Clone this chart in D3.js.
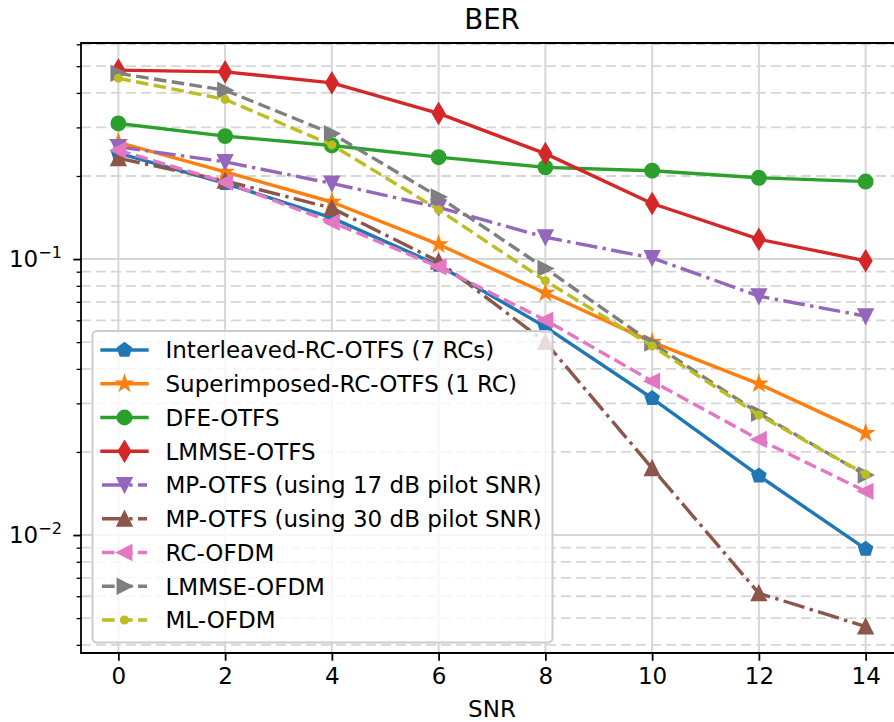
<!DOCTYPE html>
<meta charset="utf-8">
<html>
<head>
    <meta charset="utf-8">
    <title>BER</title>
    <style>
        body { margin: 0; background: #fff; }
        text { font-family: "DejaVu Sans", sans-serif; fill: #000; }
    </style>
</head>
<body>
    <script src="https://d3js.org/d3.v7.min.js"></script>
    <script>
        // data
        const snr = [0, 2, 4, 6, 8, 10, 12, 14];
        const interleaved = [0.242, 0.188, 0.141, 0.095, 0.0568, 0.0313, 0.0164, 0.0089];
        const superimposed = [0.265, 0.207, 0.161, 0.113, 0.0753, 0.050, 0.0353, 0.0234];
        const dfeOtfs = [0.310, 0.279, 0.258, 0.234, 0.215, 0.209, 0.197, 0.191];
        const lmmseOtfs = [0.484, 0.477, 0.435, 0.337, 0.241, 0.159, 0.118, 0.0986];
        const mp17 = [0.255, 0.225, 0.188, 0.154, 0.120, 0.101, 0.0734, 0.0621];
        const mp30 = [0.232, 0.192, 0.153, 0.098, 0.050, 0.01746, 0.00615, 0.00466];
        const rcOfdm = [0.248, 0.190, 0.136, 0.0938, 0.0601, 0.0361, 0.0222, 0.0144];
        const lmmseOfdm = [0.471, 0.409, 0.285, 0.168, 0.0925, 0.0496, 0.0276, 0.0165];
        const mlOfdm = [0.452, 0.379, 0.259, 0.151, 0.0834, 0.0484, 0.0272, 0.0166];

        const xTicks = [0, 2, 4, 6, 8, 10, 12, 14];
        const yMajor = [0.1, 0.01];
        const yMajorExp = ["−1", "−2"];
        const yMinor = [0.004, 0.005, 0.006, 0.007, 0.008, 0.009,
                        0.02, 0.03, 0.04, 0.05, 0.06, 0.07, 0.08, 0.09,
                        0.2, 0.3, 0.4, 0.5, 0.6];

        const series = [
            {name: "Interleaved-RC-OTFS (7 RCs)", values: interleaved, color: "#1f77b4", dash: null, marker: "p"},
            {name: "Superimposed-RC-OTFS (1 RC)", values: superimposed, color: "#ff7f0e", dash: null, marker: "*"},
            {name: "DFE-OTFS", values: dfeOtfs, color: "#2ca02c", dash: null, marker: "o"},
            {name: "LMMSE-OTFS", values: lmmseOtfs, color: "#d62728", dash: null, marker: "d"},
            {name: "MP-OTFS (using 17 dB pilot SNR)", values: mp17, color: "#9467bd", dash: "dashdot", marker: "v"},
            {name: "MP-OTFS (using 30 dB pilot SNR)", values: mp30, color: "#8c564b", dash: "dashdot", marker: "^"},
            {name: "RC-OFDM", values: rcOfdm, color: "#e377c2", dash: "dashed", marker: "<"},
            {name: "LMMSE-OFDM", values: lmmseOfdm, color: "#7f7f7f", dash: "dashed", marker: ">"},
            {name: "ML-OFDM", values: mlOfdm, color: "#bcbd22", dash: "dashed", marker: "."},
        ];

        // layout
        const width = 894, height = 722;
        const plot = {left: 81, right: 903, top: 43, bottom: 653};
        const fontSize = 23;
        const lw = 3.4, ms = 13.6, mew = 2.3;
        const dashes = {dashed: [12.6, 5.4], dashdot: [21.8, 5.4, 3.4, 5.4]};

        const svg = d3.select("body").append("svg")
            .attr("width", width)
            .attr("height", height);

        const x = d3.scaleLinear().domain([-0.7, 14.7]).range([plot.left, plot.right]);
        const y = d3.scaleLog().domain([0.003737, 0.6067]).range([plot.bottom, plot.top]);

        svg.append("defs").append("clipPath").attr("id", "clip")
            .append("rect")
            .attr("x", plot.left).attr("y", plot.top)
            .attr("width", plot.right - plot.left).attr("height", plot.bottom - plot.top);

        // grid
        const grid = svg.append("g").attr("class", "grid");
        grid.selectAll(".gx").data(xTicks).join("line")
            .attr("x1", d => x(d)).attr("x2", d => x(d))
            .attr("y1", plot.top).attr("y2", plot.bottom)
            .attr("stroke", "#d6d6d6").attr("stroke-width", 2);
        grid.selectAll(".gy").data(yMajor).join("line")
            .attr("x1", plot.left).attr("x2", plot.right)
            .attr("y1", d => y(d)).attr("y2", d => y(d))
            .attr("stroke", "#d6d6d6").attr("stroke-width", 2);
        grid.selectAll(".gm").data(yMinor).join("line")
            .attr("x1", plot.left).attr("x2", plot.right)
            .attr("y1", d => y(d)).attr("y2", d => y(d))
            .attr("stroke", "#d6d6d6").attr("stroke-width", 1.8)
            .attr("stroke-dasharray", "10,5");

        // markers
        function markerPath(type, size) {
            const r = size / 2;
            const poly = pts => "M" + pts.map(p => p.map(v => v.toFixed(2)).join(",")).join("L") + "Z";
            const circle = rr => `M${-rr},0A${rr},${rr} 0 1,0 ${rr},0A${rr},${rr} 0 1,0 ${-rr},0Z`;
            switch (type) {
                case "o": return circle(r);
                case ".": return circle(r * 0.5);
                case "p": return poly(d3.range(5).map(k => {
                    const a = (90 + 72 * k) * Math.PI / 180;
                    return [r * Math.cos(a), -r * Math.sin(a)];
                }));
                case "*": return poly(d3.range(10).map(k => {
                    const a = (90 + 36 * k) * Math.PI / 180;
                    const rr = k % 2 ? r * 0.381966 : r;
                    return [rr * Math.cos(a), -rr * Math.sin(a)];
                }));
                case "d": {
                    const h = size * 0.7071, w = size * 0.7071 * 0.6;
                    return poly([[0, -h], [w, 0], [0, h], [-w, 0]]);
                }
                case "v": return poly([[0, r], [-r, -r], [r, -r]]);
                case "^": return poly([[0, -r], [-r, r], [r, r]]);
                case "<": return poly([[-r, 0], [r, -r], [r, r]]);
                case ">": return poly([[r, 0], [-r, -r], [-r, r]]);
            }
        }

        // lines
        const line = d3.line().x((d, i) => x(snr[i])).y(d => y(d));
        const groupMarks = svg.append("g").attr("class", "groupMarks");
        for (const s of series) {
            const g = groupMarks.append("g");
            g.append("path")
                .attr("clip-path", "url(#clip)")
                .attr("d", line(s.values))
                .attr("fill", "none")
                .attr("stroke", s.color)
                .attr("stroke-width", lw)
                .attr("stroke-linejoin", "round")
                .attr("stroke-linecap", s.dash ? "butt" : "square")
                .attr("stroke-dasharray", s.dash ? dashes[s.dash].join(",") : null);
            g.selectAll("path.m").data(s.values).join("path")
                .attr("class", "m")
                .attr("transform", (d, i) => `translate(${x(snr[i])},${y(d)})`)
                .attr("d", markerPath(s.marker, ms))
                .attr("fill", s.color)
                .attr("stroke", s.color)
                .attr("stroke-width", mew)
                .attr("stroke-linejoin", "miter");
        }

        // axes
        const axisX = svg.append("g")
            .attr("transform", `translate(0,${plot.bottom})`)
            .call(d3.axisBottom(x).tickValues(xTicks).tickSize(7.7).tickPadding(7))
            .call(g => g.select(".domain").remove());
        axisX.selectAll(".tick line").attr("stroke-width", 1.8);
        axisX.selectAll(".tick text").attr("font-size", fontSize).attr("font-family", "DejaVu Sans").attr("dy", "0.71em");

        const axisY = svg.append("g")
            .attr("transform", `translate(${plot.left},0)`)
            .call(d3.axisLeft(y).tickValues(yMajor).tickSize(7.7).tickFormat(""))
            .call(g => g.select(".domain").remove());
        axisY.selectAll(".tick line").attr("stroke-width", 1.8);
        const axisYMinor = svg.append("g")
            .attr("transform", `translate(${plot.left},0)`)
            .call(d3.axisLeft(y).tickValues(yMinor).tickSize(4.4).tickFormat(""))
            .call(g => g.select(".domain").remove());
        axisYMinor.selectAll(".tick line").attr("stroke-width", 1.3);

        const yLabels = svg.append("g").selectAll("text").data(yMajor).join("text")
            .attr("x", 62)
            .attr("y", d => y(d) + 8.2)
            .attr("text-anchor", "end")
            .attr("font-size", fontSize);
        yLabels.append("tspan").text("10");
        yLabels.append("tspan")
            .attr("font-size", fontSize * 0.7)
            .attr("dy", -9.5)
            .text((d, i) => yMajorExp[i]);

        // spines
        svg.append("path")
            .attr("d", `M${plot.left},${plot.top}V${plot.bottom}H${plot.right}V${plot.top}Z`)
            .attr("fill", "none")
            .attr("stroke", "#000")
            .attr("stroke-width", 1.8)
            .attr("stroke-linejoin", "miter");

        // title and label
        svg.append("text")
            .attr("x", (plot.left + plot.right) / 2)
            .attr("y", 28.5)
            .attr("text-anchor", "middle")
            .attr("font-size", fontSize * 1.2)
            .text("BER");
        svg.append("text")
            .attr("x", (plot.left + plot.right) / 2)
            .attr("y", 716.5)
            .attr("text-anchor", "middle")
            .attr("font-size", fontSize)
            .text("SNR");

        // legend
        const legend = svg.append("g").attr("class", "groupLegends");
        const box = {x: 92.5, y: 331, w: 460, h: 311.5};
        legend.append("rect")
            .attr("x", box.x).attr("y", box.y)
            .attr("width", box.w).attr("height", box.h)
            .attr("rx", 4.4).attr("ry", 4.4)
            .attr("fill", "rgba(255,255,255,0.8)")
            .attr("stroke", "#cccccc")
            .attr("stroke-width", 2);
        const rowY = d3.scalePoint().domain(series.map(s => s.name)).range([350, 620]);
        const hx0 = 102, hx1 = 147;
        for (const s of series) {
            const cy = rowY(s.name);
            legend.append("line")
                .attr("x1", hx0).attr("x2", hx1)
                .attr("y1", cy).attr("y2", cy)
                .attr("stroke", s.color)
                .attr("stroke-width", lw)
                .attr("stroke-linecap", s.dash ? "butt" : "square")
                .attr("stroke-dasharray", s.dash ? dashes[s.dash].join(",") : null);
            legend.append("path")
                .attr("transform", `translate(${(hx0 + hx1) / 2},${cy})`)
                .attr("d", markerPath(s.marker, ms))
                .attr("fill", s.color)
                .attr("stroke", s.color)
                .attr("stroke-width", mew);
            legend.append("text")
                .attr("x", 165.5)
                .attr("y", cy + 8.4)
                .attr("font-size", fontSize)
                .text(s.name);
        }
    </script>
</body>
</html>
